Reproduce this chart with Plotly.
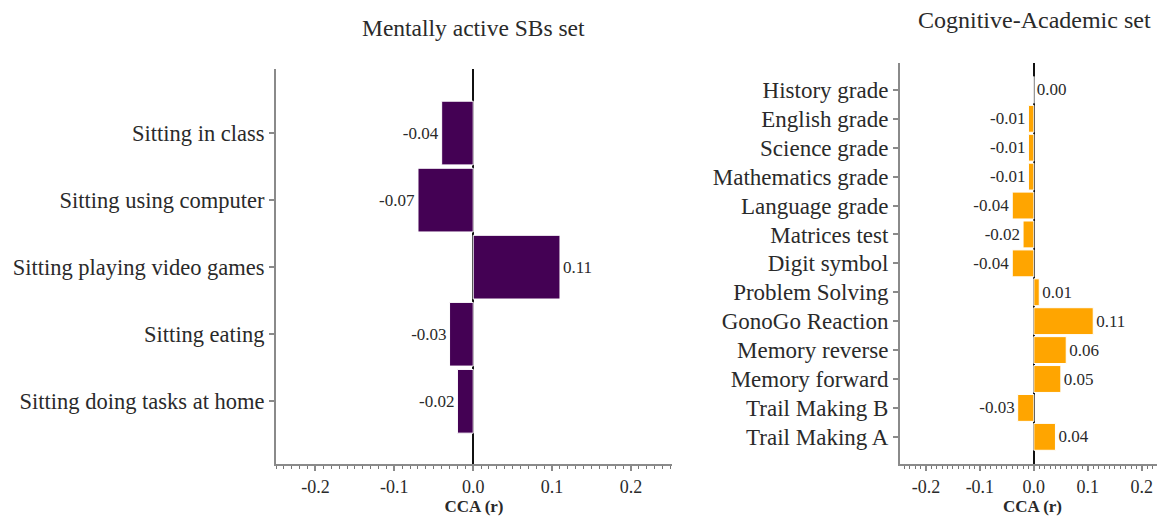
import plotly.graph_objects as go

# ---- data ----
left_categories = ["Sitting in class", "Sitting using computer", "Sitting playing video games",
                   "Sitting eating", "Sitting doing tasks at home"]
left_values = [-0.04, -0.07, 0.11, -0.03, -0.02]

right_categories = ["History grade", "English grade", "Science grade", "Mathematics grade",
                    "Language grade", "Matrices test", "Digit symbol", "Problem Solving",
                    "GonoGo Reaction", "Memory reverse", "Memory forward", "Trail Making B",
                    "Trail Making A"]
right_values = [0.00, -0.01, -0.01, -0.01, -0.04, -0.02, -0.04, 0.01, 0.11, 0.06, 0.05, -0.03, 0.04]

left_title = "Mentally active SBs set"
right_title = "Cognitive-Academic set"
x_title = "<b>CCA (r)</b>"
x_ticks = [-0.2, -0.1, 0.0, 0.1, 0.2]

OFF = 8  # page body margin
W, H = 1165 - OFF, 517 - OFF
FONT = "Liberation Serif"
TXT = "#2a2a2a"
AX = "#8a8a8a"


def px(x):
    return (x - OFF) / W


def py(y):
    return 1 - (y - OFF) / H


fig = go.Figure()
fig.add_trace(go.Bar(
    x=left_values, y=left_categories, orientation="h", xaxis="x", yaxis="y",
    marker=dict(color="#440154", line=dict(color="white", width=1)), width=0.95,
    text=[f"{v:.2f}" for v in left_values], textposition="outside", constraintext="none",
    cliponaxis=False, textfont=dict(family=FONT, size=17, color=TXT), showlegend=False))
fig.add_trace(go.Bar(
    x=right_values, y=right_categories, orientation="h", xaxis="x2", yaxis="y2",
    marker=dict(color="#FFA500", line=dict(color="white", width=1)), width=0.93,
    text=[f"{v:.2f}" for v in right_values], textposition="outside", constraintext="none",
    cliponaxis=False, textfont=dict(family=FONT, size=17, color=TXT), showlegend=False))


def xaxis_cfg(domain, rng, anchor):
    return dict(domain=domain, range=rng, anchor=anchor, tickvals=x_ticks,
                ticktext=[f"{t:.1f}" for t in x_ticks],
                showline=True, linecolor=AX, linewidth=2, ticks="outside", ticklen=5,
                tickcolor=AX, tickwidth=1.5, showgrid=False,
                zeroline=True, zerolinecolor="#111111", zerolinewidth=1.6,
                minor=dict(dtick=0.01, tick0=0, ticks="outside", ticklen=3, tickcolor="#777777", tickwidth=1),
                tickfont=dict(family=FONT, size=18, color=TXT),
                title=dict(text=x_title, font=dict(family=FONT, size=17, color=TXT), standoff=2),
                automargin=False, fixedrange=True)


def yaxis_cfg(domain, cats, rng, anchor, size):
    return dict(domain=domain, type="category", categoryorder="array", categoryarray=cats,
                range=rng, anchor=anchor, showline=True, linecolor=AX, linewidth=2, ticks="outside",
                ticklen=5, tickcolor=AX, tickwidth=1.5, showgrid=False, zeroline=False,
                tickfont=dict(family=FONT, size=size, color=TXT), automargin=False, fixedrange=True)


fig.update_layout(
    width=W, height=H,
    margin=dict(l=0, r=0, t=0, b=0),
    paper_bgcolor="white", plot_bgcolor="white",
    xaxis=xaxis_cfg([px(276), px(672)], [-0.25, 0.252], "y"),
    yaxis=yaxis_cfg([py(464), py(69)], left_categories, [4.935, -0.955], "x", 22.5),
    xaxis2=xaxis_cfg([px(900), 1.0], [-0.248, 0.243], "y2"),
    yaxis2=yaxis_cfg([py(464), py(63)], right_categories, [12.94, -0.93], "x2", 23),
    annotations=[
        dict(text=left_title, x=px(473), y=py(28), xref="paper", yref="paper",
             xanchor="center", yanchor="middle", showarrow=False,
             font=dict(family=FONT, size=23.5, color=TXT)),
        dict(text=right_title, x=px(1034), y=py(20), xref="paper", yref="paper",
             xanchor="center", yanchor="middle", showarrow=False,
             font=dict(family=FONT, size=24, color=TXT)),
    ],
)

fig.write_html("out.html")
